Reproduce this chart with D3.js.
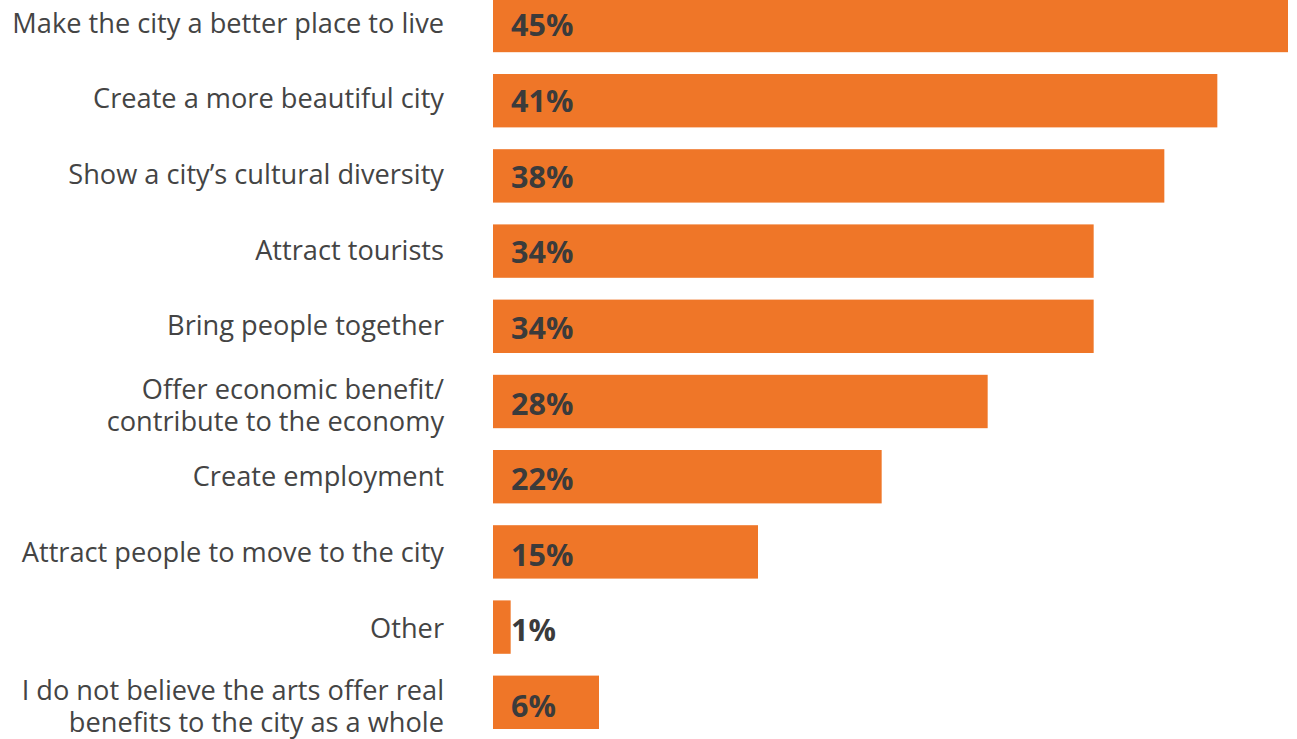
<!DOCTYPE html>
<html>
<head>
<meta charset="utf-8">
<script src="https://cdn.jsdelivr.net/npm/d3@7"></script>
<style>
  html, body { margin: 0; padding: 0; background: #fff; }
  svg { display: block; }
</style>
</head>
<body>
<svg id="chart" width="1297" height="739"></svg>
<script>
// Reasons the arts benefit the city, share of respondents (%)
const categories = [
  ["Make the city a better place to live"],
  ["Create a more beautiful city"],
  ["Show a city’s cultural diversity"],
  ["Attract tourists"],
  ["Bring people together"],
  ["Offer economic benefit/", "contribute to the economy"],
  ["Create employment"],
  ["Attract people to move to the city"],
  ["Other"],
  ["I do not believe the arts offer real", "benefits to the city as a whole"]
];
const values = [45, 41, 38, 34, 34, 28, 22, 15, 1, 6];
const valueLabels = ["45%", "41%", "38%", "34%", "34%", "28%", "22%", "15%", "1%", "6%"];

const svg = d3.select("#chart");
const font = "'Open Sans', 'Noto Sans', sans-serif";

const x = d3.scaleLinear().domain([0, 45]).range([493, 1288]);

const rowStep = 75.2, rowGap = 0.29, firstRowY = -1.2;
const y = d3.scaleBand()
  .domain(d3.range(values.length))
  .range([firstRowY, firstRowY + rowStep * (values.length - rowGap)])
  .paddingInner(rowGap)
  .paddingOuter(0);

// text rows sit on a slightly wider pitch than the bars
const textDrift = 0.42;
const mid = i => y(i) + y.bandwidth() / 2 + textDrift * i;

const rows = svg.selectAll("g.row")
  .data(values.map((v, i) => ({ v, i, lines: categories[i], label: valueLabels[i] })))
  .join("g")
  .attr("class", "row");

rows.append("rect")
  .attr("x", x(0))
  .attr("y", d => y(d.i))
  .attr("width", d => x(d.v) - x(0))
  .attr("height", y.bandwidth())
  .attr("fill", "#EF7628");

rows.append("text")
  .attr("x", 511)
  .attr("y", d => mid(d.i))
  .attr("dy", "0.36em")
  .attr("font-family", font)
  .attr("font-weight", 700)
  .attr("font-size", 30.5)
  .attr("fill", "#3b3b3b")
  .text(d => d.label);

const lineH = 32;
rows.append("text")
  .attr("text-anchor", "end")
  .attr("font-family", font)
  .attr("font-size", 27.2)
  .attr("fill", "#444444")
  .each(function(d) {
    const t = d3.select(this);
    const n = d.lines.length;
    const cy = n > 1
      ? y(d.i) + y.bandwidth() / 2 + 3.5
      : mid(d.i) - 2.6;
    d.lines.forEach((line, k) => {
      t.append("tspan")
        .attr("x", 444)
        .attr("y", cy + (k - (n - 1) / 2) * lineH)
        .attr("dy", "0.36em")
        .text(line);
    });
  });
</script>
</body>
</html>
